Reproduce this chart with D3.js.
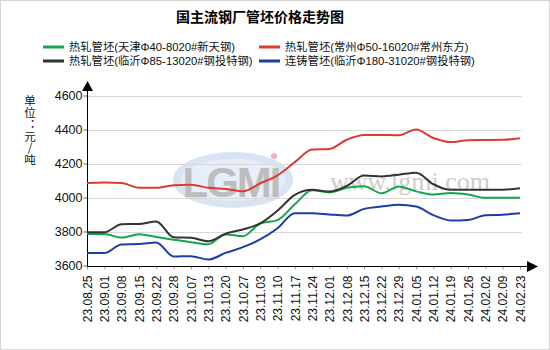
<!DOCTYPE html>
<html><head><meta charset="utf-8">
<script src="https://cdn.jsdelivr.net/npm/d3@7"></script>
<style>
html,body{margin:0;padding:0;background:#fff;}
svg{display:block;font-family:"Liberation Sans","Noto Sans CJK SC",sans-serif;}
</style></head>
<body><svg id="c" width="550" height="350"></svg>
<script>
const title = "国主流钢厂管坯价格走势图";
const dates = ["23.08.25","23.09.01","23.09.08","23.09.15","23.09.22","23.09.28","23.10.07","23.10.13","23.10.20","23.10.27","23.11.03","23.11.10","23.11.17","23.11.24","23.12.01","23.12.08","23.12.15","23.12.22","23.12.29","24.01.05","24.01.12","24.01.19","24.01.26","24.02.02","24.02.09","24.02.23"];
const seriesNames = ["热轧管坯(天津Φ40-8020#新天钢)","热轧管坯(常州Φ50-16020#常州东方)","热轧管坯(临沂Φ85-13020#钢投特钢)","连铸管坯(临沂Φ180-31020#钢投特钢)"];
const tianjin = [3785,3785,3764,3784,3768,3752,3737,3725,3783,3772,3847,3867,3960,4043,4030,4057,4066,4025,4065,4036,4017,4026,4017,3998,3998,3998];
const changzhou = [4085,4088,4085,4057,4057,4072,4075,4057,4050,4037,4083,4130,4208,4282,4286,4340,4368,4368,4366,4400,4350,4326,4337,4338,4339,4349];
const linyiHot = [3795,3795,3843,3844,3859,3766,3763,3743,3787,3812,3848,3923,4015,4045,4035,4068,4129,4124,4134,4146,4078,4045,4045,4045,4046,4055];
const linyiCast = [3673,3673,3724,3726,3736,3653,3655,3635,3674,3708,3753,3819,3908,3908,3900,3894,3933,3947,3957,3947,3896,3865,3868,3896,3899,3907];
const yTicks = [3600,3800,4000,4200,4400,4600];
const unitLabel = "单位：元/吨";
const colors = ["#14a64a","#dc3b33","#333333","#1b3fa5"];
const allSeries = [tianjin, changzhou, linyiHot, linyiCast];

const svg = d3.select("#c");
svg.append("rect").attr("x",0.5).attr("y",0.5).attr("width",549).attr("height",349)
  .attr("fill","#fff").attr("stroke","#d4d4d4");

const x = d3.scalePoint().domain(dates).range([87,520]);
const y = d3.scaleLinear().domain([3600,4600]).range([265.5,95.5]);

// watermark
const wm = svg.append("g");
wm.append("ellipse").attr("cx",233).attr("cy",180).attr("rx",60).attr("ry",28)
  .attr("fill","#d6e4f3");
wm.append("ellipse").attr("cx",233).attr("cy",180).attr("rx",52).attr("ry",21)
  .attr("fill","#e6eef8");
wm.append("text").attr("x",231).attr("y",197).attr("text-anchor","middle")
  .attr("font-size",42).attr("font-weight","bold").attr("fill","#bdbdbd")
  .attr("font-family","Liberation Sans").attr("letter-spacing",-2).text("LGMI");
wm.append("circle").attr("cx",274).attr("cy",156).attr("r",3).attr("fill","#f0b0b8");
wm.append("text").attr("x",410).attr("y",190).attr("text-anchor","middle")
  .attr("font-size",26).attr("fill","#cdcdcd").attr("font-family","Liberation Serif")
  .text("www.lgmi.com");

// gridlines
svg.append("g").selectAll("line").data(yTicks.slice(1)).join("line")
  .attr("x1",87).attr("x2",522).attr("y1",d=>Math.round(y(d))+0.5).attr("y2",d=>Math.round(y(d))+0.5)
  .attr("stroke","#d9d9d9");

// y axis
const ya = svg.append("g").attr("transform","translate(87.5,0)")
  .call(d3.axisLeft(y).tickValues(yTicks).tickSize(4).tickPadding(1).tickFormat(d3.format("d")));
ya.select(".domain").remove();
ya.selectAll(".tick line").attr("stroke","#666");
ya.selectAll(".tick text").attr("font-size",12.5).attr("fill","#111").attr("font-family","Liberation Sans");
svg.append("line").attr("x1",87.5).attr("x2",87.5).attr("y1",266).attr("y2",90).attr("stroke","#000");
svg.append("path").attr("d","M82,91 L93,91 L87.5,81 Z").attr("fill","#000");

// x axis
const xa = svg.append("g").attr("transform","translate(0,266.5)")
  .call(d3.axisBottom(x).tickSize(3).tickSizeOuter(0));
xa.select(".domain").remove();
xa.selectAll(".tick line").attr("stroke","#999");
xa.selectAll(".tick text").attr("font-size",12).attr("fill","#111").attr("font-family","Liberation Sans")
  .attr("transform","rotate(-90)").attr("x",-9).attr("y",0).attr("dy","0.35em").style("text-anchor","end");
svg.append("line").attr("x1",87).attr("x2",528).attr("y1",266.5).attr("y2",266.5).attr("stroke","#000");
svg.append("path").attr("d","M527,261 L538,266.5 L527,272 Z").attr("fill","#000");

// lines
const line = d3.line().x((d,i)=>x(dates[i])).y(d=>y(d)).curve(d3.curveMonotoneX);
svg.append("g").selectAll("path").data(allSeries).join("path")
  .attr("d",line).attr("fill","none").attr("stroke",(d,i)=>colors[i]).attr("stroke-width",2);

// unit label (vertical)
svg.append("text").attr("x",30).attr("y",95)
  .style("writing-mode","vertical-rl").style("text-orientation","upright")
  .attr("font-size",11.5).attr("letter-spacing",0.3).attr("fill","#111")
  .attr("font-family","Noto Sans CJK SC").text(unitLabel);

// title
svg.append("text").attr("x",260).attr("y",22).attr("text-anchor","middle")
  .attr("font-size",14).attr("font-weight","bold").attr("fill","#000")
  .attr("font-family","Noto Sans CJK SC").text(title);

// legend
const legPos = [[43,47],[259,47],[43,61],[259,61]];
const lg = svg.append("g").selectAll("g").data(seriesNames).join("g")
  .attr("transform",(d,i)=>`translate(${legPos[i][0]},${legPos[i][1]})`);
lg.append("line").attr("x1",0).attr("x2",21).attr("y1",0).attr("y2",0)
  .attr("stroke",(d,i)=>colors[i]).attr("stroke-width",3);
lg.append("text").attr("x",26).attr("y",0).attr("dy","0.36em").attr("font-size",11.3).attr("fill","#111")
  .text(d=>d);
</script></body></html>
